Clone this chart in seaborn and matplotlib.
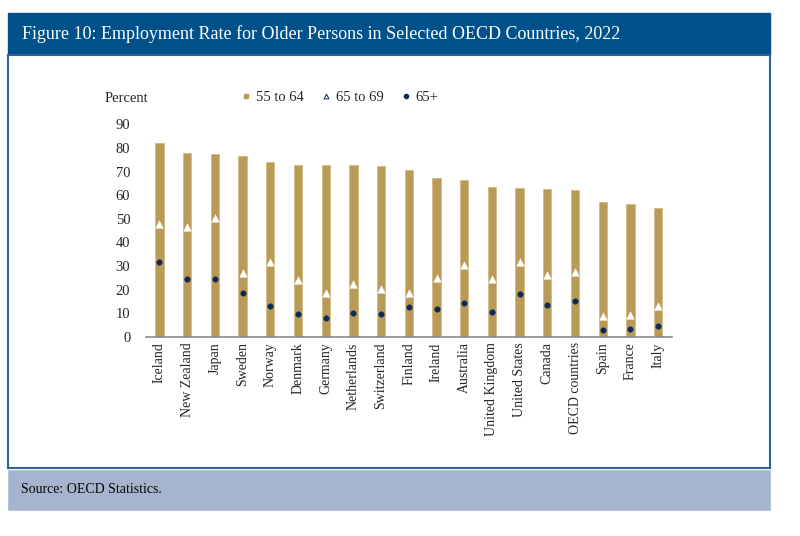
import matplotlib
matplotlib.use("Agg")
import matplotlib.pyplot as plt
from matplotlib.patches import Rectangle
from matplotlib.lines import Line2D
import pandas as pd
import seaborn as sns

# --- data ---
countries = ["Iceland", "New Zealand", "Japan", "Sweden", "Norway", "Denmark",
             "Germany", "Netherlands", "Switzerland", "Finland", "Ireland",
             "Australia", "United Kingdom", "United States", "Canada",
             "OECD countries", "Spain", "France", "Italy"]
rate_55_64 = [82.0, 78.0, 77.5, 76.7, 73.9, 72.9, 72.8, 72.6, 72.2, 70.6, 67.5,
              66.5, 63.6, 62.9, 62.6, 62.3, 57.1, 56.2, 54.4]
rate_65_69 = [47.8, 46.6, 50.2, 26.9, 31.5, 24.0, 18.4, 22.2, 20.1, 18.6, 24.7,
              30.3, 24.6, 31.7, 26.1, 27.4, 8.8, 9.3, 13.0]
rate_65_plus = [31.8, 24.3, 24.6, 18.6, 13.0, 9.8, 7.8, 9.9, 9.6, 12.7, 11.9,
                14.1, 10.3, 18.1, 13.3, 15.0, 2.7, 3.3, 4.4]
y_ticks = [0, 10, 20, 30, 40, 50, 60, 70, 80, 90]

title = "Figure 10: Employment Rate for Older Persons in Selected OECD Countries, 2022"
source = "Source: OECD Statistics."

GOLD = "#B99B57"
NAVY = "#0C2A5B"
BAND = "#00508A"
SOURCE_BG = "#A6B5CF"

df = pd.DataFrame({"country": countries, "r5564": rate_55_64,
                   "r6569": rate_65_69, "r65p": rate_65_plus})

sns.set_style("white")
plt.rcParams["font.family"] = ["Liberation Serif", "DejaVu Serif"]

fig = plt.figure(figsize=(8, 5.36), dpi=100)

# --- frame: title band, white panel, source band ---
fig.add_artist(Rectangle((0.01, 0.8974), 0.9525, 0.0783, transform=fig.transFigure,
                         facecolor=BAND, edgecolor=BAND, zorder=0))
fig.add_artist(Rectangle((0.01, 0.1269), 0.9525, 0.7705, transform=fig.transFigure,
                         facecolor="white", edgecolor="#2E6399", linewidth=1.5, zorder=0))
fig.add_artist(Rectangle((0.01, 0.0485), 0.9525, 0.0746, transform=fig.transFigure,
                         facecolor=SOURCE_BG, edgecolor="#B8C5DA", linewidth=0.8, zorder=0))
fig.text(0.027, 0.9365, title, color="white", fontsize=13, va="center", ha="left")
fig.text(0.026, 0.086, source, color="black", fontsize=10, va="center", ha="left")

# --- chart ---
ax = fig.add_axes([0.182, 0.3718, 0.658, 0.396])
ax.set_facecolor("none")
sns.barplot(data=df, x="country", y="r5564", color=GOLD, width=0.3,
            edgecolor="#D2BC82", linewidth=0.6, saturation=1, ax=ax, zorder=2)
sns.scatterplot(data=df, x="country", y="r6569", marker="^", s=30, color="white",
                edgecolor="white", linewidth=0.3, ax=ax, zorder=3)
sns.scatterplot(data=df, x="country", y="r65p", marker="o", s=16, color=NAVY,
                edgecolor=NAVY, linewidth=0.3, ax=ax, zorder=4)

ax.set_xlim(-0.5, len(countries) - 0.5)
ax.set_ylim(0, 90)
ax.set_yticks(y_ticks)
ax.set_xlabel("")
ax.set_ylabel("")
ax.tick_params(axis="y", length=0, pad=11, labelsize=10.5)
ax.tick_params(axis="x", length=0, pad=4, labelsize=10, rotation=90)
for lab in ax.get_xticklabels():
    lab.set_verticalalignment("top")
for side in ["top", "right", "left"]:
    ax.spines[side].set_visible(False)
ax.spines["bottom"].set_color("#8A8A8A")
ax.spines["bottom"].set_linewidth(1.2)
ax.grid(False)

fig.text(105 / 800, 1 - 98 / 536, "Percent", fontsize=10.5, va="center", ha="left")

handles = [
    Line2D([], [], linestyle="none", marker="s", markersize=3.5, color=GOLD),
    Line2D([], [], linestyle="none", marker="^", markersize=3.5,
           markerfacecolor="white", markeredgecolor=NAVY, markeredgewidth=0.7),
    Line2D([], [], linestyle="none", marker="o", markersize=3, color=NAVY),
]
fig.legend(handles, ["55 to 64", "65 to 69", "65+"], loc="center left",
           bbox_to_anchor=(227 / 800, 1 - 97 / 536), ncol=3, frameon=False,
           fontsize=10.5, handlelength=0.8, handletextpad=0.3, columnspacing=1.1)

fig.savefig("out.png", dpi=100)
